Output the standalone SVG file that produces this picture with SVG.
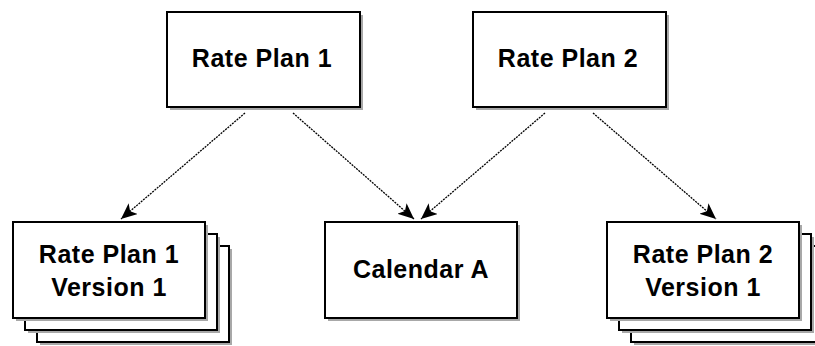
<svg xmlns="http://www.w3.org/2000/svg" width="815" height="346" viewBox="0 0 815 346">
  <defs>
    <style>
      .shadow { fill: #a8a8a8; }
      .box { fill: #ffffff; stroke: #000000; stroke-width: 2; }
      .label { font-family: "Liberation Sans", Arial, sans-serif; font-weight: bold; font-size: 25px; letter-spacing: 0.5px; fill: #000000; text-anchor: middle; }
      .link { fill: none; stroke: #000000; stroke-width: 1.3; stroke-dasharray: 2 1; }
    </style>
    <marker id="arrow" markerUnits="userSpaceOnUse" markerWidth="18" markerHeight="16" refX="16" refY="7" orient="auto">
      <path d="M0,0 L16,7 L0,14 L4,7 Z" fill="#000000"/>
    </marker>
  </defs>
  <rect width="815" height="346" fill="#ffffff"/>

  <!-- connectors -->
  <g id="connectors">
    <line class="link" x1="245" y1="113" x2="121" y2="219" marker-end="url(#arrow)"/>
    <line class="link" x1="293" y1="113" x2="414" y2="219" marker-end="url(#arrow)"/>
    <line class="link" x1="545" y1="113" x2="421" y2="219" marker-end="url(#arrow)"/>
    <line class="link" x1="593" y1="113" x2="716" y2="219" marker-end="url(#arrow)"/>
  </g>

  <!-- top row -->
  <g id="rate-plan-1">
    <rect class="shadow" x="170" y="15" width="193" height="95"/>
    <rect class="box" x="167" y="12" width="193" height="95"/>
    <text class="label" x="262" y="67">Rate Plan 1</text>
  </g>
  <g id="rate-plan-2">
    <rect class="shadow" x="476" y="15" width="193" height="95"/>
    <rect class="box" x="473" y="12" width="193" height="95"/>
    <text class="label" x="568" y="67">Rate Plan 2</text>
  </g>

  <!-- bottom row -->
  <g id="rate-plan-1-version-1">
    <rect class="shadow" x="40" y="249" width="192" height="96"/>
    <rect class="box" x="37" y="246" width="192" height="96"/>
    <rect class="shadow" x="28" y="237" width="192" height="96"/>
    <rect class="box" x="25" y="234" width="192" height="96"/>
    <rect class="shadow" x="16" y="225" width="192" height="96"/>
    <rect class="box" x="13" y="222" width="192" height="96"/>
    <text class="label" x="109" y="263">Rate Plan 1</text>
    <text class="label" x="109" y="296">Version 1</text>
  </g>
  <g id="calendar-a">
    <rect class="shadow" x="328" y="225" width="192" height="96"/>
    <rect class="box" x="325" y="222" width="192" height="96"/>
    <text class="label" x="421" y="278">Calendar A</text>
  </g>
  <g id="rate-plan-2-version-1">
    <rect class="shadow" x="634" y="249" width="192" height="96"/>
    <rect class="box" x="631" y="246" width="192" height="96"/>
    <rect class="shadow" x="622" y="237" width="192" height="96"/>
    <rect class="box" x="619" y="234" width="192" height="96"/>
    <rect class="shadow" x="610" y="225" width="192" height="96"/>
    <rect class="box" x="607" y="222" width="192" height="96"/>
    <text class="label" x="703" y="263">Rate Plan 2</text>
    <text class="label" x="703" y="296">Version 1</text>
  </g>
</svg>
